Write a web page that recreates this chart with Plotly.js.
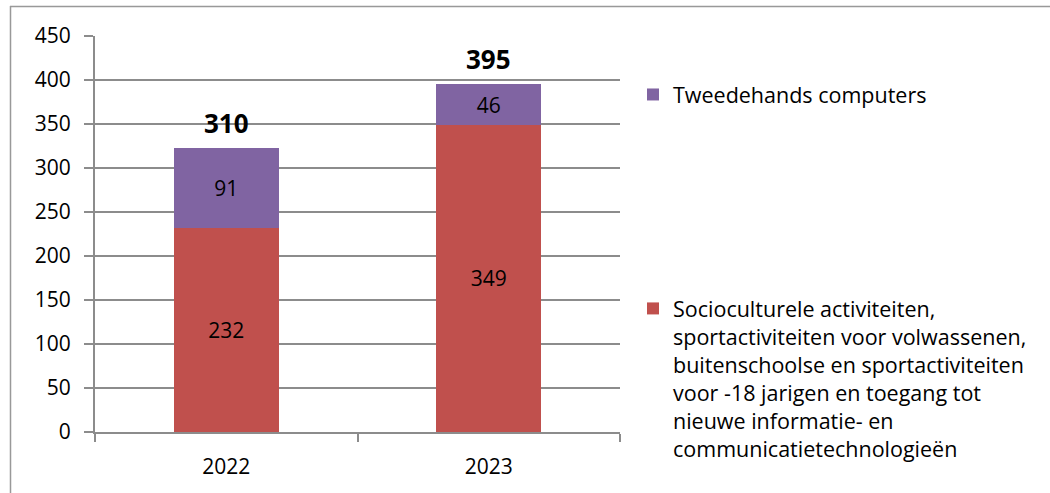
<!DOCTYPE html>
<html>
<head>
<meta charset="utf-8">
<script src="https://cdn.plot.ly/plotly-3.0.1.min.js"></script>
<style>html,body{margin:0;padding:0;background:#fff;}#chart{width:1050px;height:493px;}</style>
</head>
<body>
<div id="chart"></div>
<script>
const years = ['2022', '2023'];
const socioValues = [232, 349];
const computerValues = [91, 46];
const totalLabels = [310, 395];
const socioName = 'Socioculturele activiteiten,<br>sportactiviteiten voor volwassenen,<br>buitenschoolse en sportactiviteiten<br>voor -18 jarigen en toegang tot<br>nieuwe informatie- en<br>communicatietechnologieën';
const computerName = 'Tweedehands computers';

const FONT = 'Open Sans, Noto Sans, sans-serif';

const traces = [
  {
    type: 'bar', x: years, y: socioValues, name: socioName, legendgroup: 'a', legendrank: 2,
    marker: {color: '#C0504D'},
    text: socioValues.map(String), textposition: 'inside', insidetextanchor: 'middle',
    textfont: {family: FONT, size: 21, color: '#000'}
  },
  {
    type: 'bar', x: years, y: computerValues, name: computerName, legendgroup: 'b', legendrank: 1,
    marker: {color: '#8064A2'},
    text: computerValues.map(String), textposition: 'inside', insidetextanchor: 'middle',
    textfont: {family: FONT, size: 21, color: '#000'}
  }
];

const annotations = years.map((yr, i) => ({
  x: i, y: socioValues[i] + computerValues[i], xref: 'x', yref: 'y',
  text: '<b>' + totalLabels[i] + '</b>', showarrow: false,
  yanchor: 'bottom', yshift: 5,
  font: {family: FONT, size: 26, color: '#000'}
}));

const L = 95, R = 620, T = 36, B = 432, W = 1050, H = 493;
const px = v => (v - L) / (R - L);
const py = v => (B - v) / (B - T);

const shapes = [
  {type: 'line', xref: 'paper', yref: 'paper', x0: px(10), x1: px(1060), y0: py(6.5), y1: py(6.5), line: {color: '#999', width: 1.5}},
  {type: 'line', xref: 'paper', yref: 'paper', x0: px(10.5), x1: px(10.5), y0: py(6), y1: py(500), line: {color: '#999', width: 1.5}}
];

const layout = {
  width: W, height: H,
  margin: {l: L, r: W - R, t: T, b: H - B},
  barmode: 'stack', bargap: 0.6,
  paper_bgcolor: '#fff', plot_bgcolor: '#fff',
  font: {family: FONT, size: 21, color: '#000'},
  xaxis: {
    type: 'category', categoryorder: 'array', categoryarray: years,
    showgrid: false, showline: true, linecolor: '#8c8c8c', linewidth: 2,
    ticks: 'outside', tickson: 'boundaries', ticklen: 8, tickcolor: '#8c8c8c', tickwidth: 2,
    ticklabelstandoff: 15, tickfont: {family: FONT, size: 21, color: '#000'}
  },
  yaxis: {
    range: [0, 450], dtick: 50, showgrid: true, gridcolor: '#8c8c8c', gridwidth: 2,
    showline: true, linecolor: '#8c8c8c', linewidth: 2, zeroline: false,
    ticks: 'outside', ticklen: 9, tickcolor: '#8c8c8c', tickwidth: 2,
    ticklabelstandoff: 9, tickfont: {family: FONT, size: 21, color: '#000'}
  },
  showlegend: true,
  legend: {
    x: px(633), xanchor: 'left', y: py(74), yanchor: 'top',
    traceorder: 'grouped', tracegroupgap: 183, valign: 'top',
    font: {family: FONT, size: 21.5, color: '#000'}
  },
  annotations: annotations,
  shapes: shapes
};

Plotly.newPlot('chart', traces, layout, {displayModeBar: false});
</script>
</body>
</html>
